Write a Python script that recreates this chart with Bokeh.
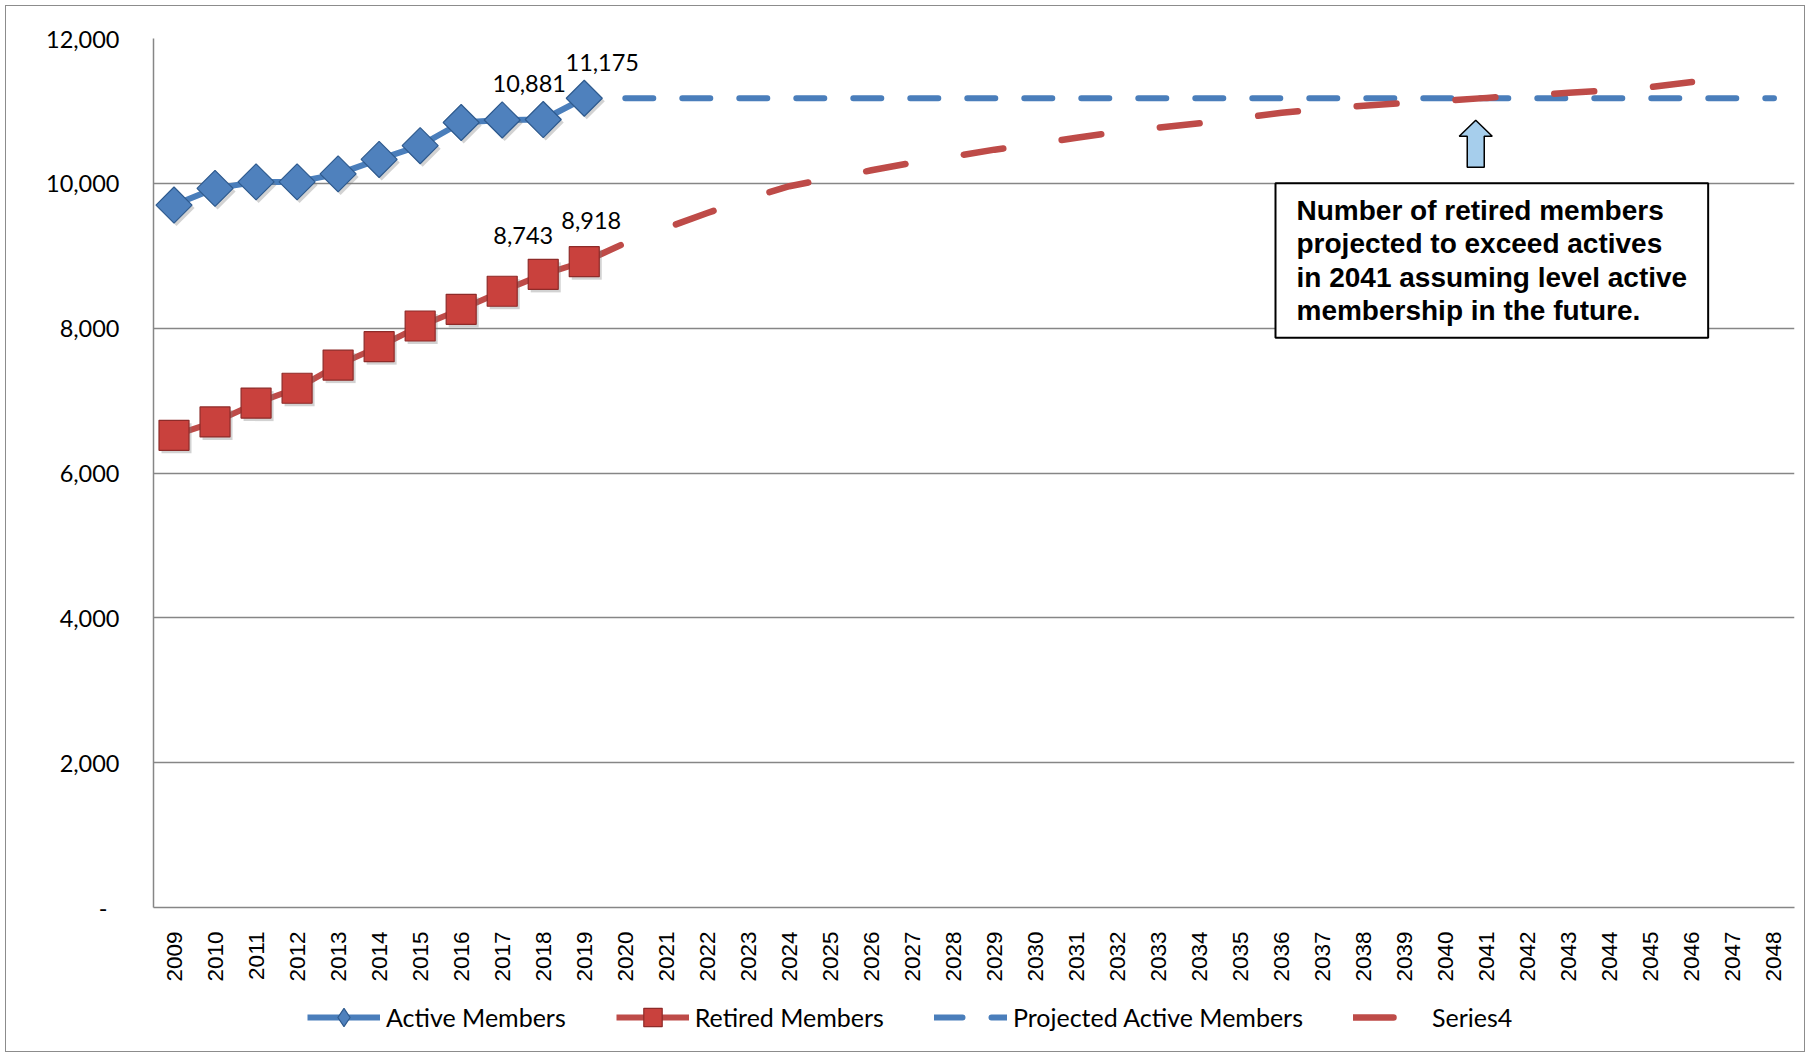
import math

from bokeh.core.properties import value
from bokeh.embed import file_html
from bokeh.layouts import column
from bokeh.models import (ColumnDataSource, FixedTicker, Label, Legend, LegendItem,
                          NumeralTickFormatter, Range1d)
from bokeh.plotting import figure
from bokeh.resources import INLINE

# ---- data -------------------------------------------------------------
years = list(range(2009, 2049))

hist_years = list(range(2009, 2020))
active_members = [9700, 9930, 10020, 10020, 10130, 10330, 10520, 10840, 10875, 10881, 11175]
retired_members = [6520, 6705, 6965, 7170, 7490, 7745, 8030, 8260, 8510, 8743, 8918]

proj_years = list(range(2020, 2049))
projected_active = [11175, 11175, 11175, 11175, 11175, 11175, 11175, 11175, 11175, 11175,
                    11175, 11175, 11175, 11175, 11175, 11175, 11175, 11175, 11175, 11175,
                    11175, 11175, 11175, 11175, 11175, 11175, 11175, 11175, 11175]

series4_years = list(range(2019, 2047))
series4 = [8918, 9175, 9385, 9590, 9790, 9960, 10070, 10180, 10285, 10370,
           10465, 10545, 10630, 10710, 10770, 10830, 10900, 10975, 11030, 11070,
           11110, 11140, 11180, 11215, 11250, 11285, 11330, 11400]

label_years = [2018, 2019]
y_ticks = [0, 2000, 4000, 6000, 8000, 10000, 12000]

crossing_year = 2041
note_text = ("Number of retired members\nprojected to exceed actives\n"
             "in 2041 assuming level active\nmembership in the future.")

# ---- colours / fonts / layout ------------------------------------------
BLUE = "#4A7EBB"
BLUE_DARK = "#2E5A8E"
RED = "#BE4B48"
RED_DARK = "#8E2B29"
GRID = "#868686"
SANS = "Lato"

W = 1810
PLOT_H, KEY_H = 985, 72
BL, BR, BT, BB = 153, 16, 38, 78
X0, X1 = 2008.5, 2048.5
Y0, Y1 = 0, 12000
FW, FH = W - BL - BR, PLOT_H - BT - BB
yr_per_px = (X1 - X0) / FW
val_per_px = (Y1 - Y0) / FH


def px_to_x(px):
    return X0 + (px - BL) * yr_per_px


p = figure(width=W, height=PLOT_H, output_backend="svg", toolbar_location=None,
           x_range=Range1d(X0, X1), y_range=Range1d(Y0, Y1),
           min_border_left=BL, min_border_right=BR, min_border_top=BT, min_border_bottom=BB)
p.outline_line_color = None
p.background_fill_color = "white"
p.border_fill_alpha = 0

# axes and grid
p.xgrid.visible = False
p.ygrid.ticker = FixedTicker(ticks=y_ticks)
p.ygrid.grid_line_color = GRID
p.ygrid.grid_line_width = 1.5

p.yaxis.ticker = FixedTicker(ticks=y_ticks)
p.yaxis.formatter = NumeralTickFormatter(format="0,0")
p.yaxis.major_label_overrides = {0: "-\u00a0\u00a0"}
p.xaxis.ticker = FixedTicker(ticks=years)
for ax in (p.xaxis, p.yaxis):
    ax.axis_line_color = GRID
    ax.axis_line_width = 1.5
    ax.major_tick_line_color = None
    ax.minor_tick_line_color = None
    ax.major_label_text_color = "black"
p.yaxis.major_label_text_font = SANS
p.yaxis.major_label_text_font_size = "23.5px"
p.yaxis.major_label_standoff = 28
p.xaxis.major_label_text_font = "Liberation Sans"
p.xaxis.major_label_text_font_size = "22.5px"
p.xaxis.major_label_orientation = math.pi / 2
p.xaxis.major_label_standoff = 18

# styles shared by the chart and its key
active_line_kw = dict(line_color=BLUE, line_width=6, line_join="round")
retired_line_kw = dict(line_color=RED, line_width=6, line_join="round")
proj_kw = dict(line_color=BLUE, line_width=6, line_dash="28 29", line_cap="round")
s4_kw = dict(line_color=RED, line_width=6.5, line_dash="40 59", line_cap="round")
active_pt_kw = dict(fill_color="#4F81BD", line_color=BLUE_DARK, line_width=1.2)
retired_pt_kw = dict(marker="square", fill_color="#C9413D", line_color=RED_DARK, line_width=1.2)

# projections
p.line(proj_years, projected_active, **proj_kw)
p.line(series4_years, series4, **s4_kw)

# history
p.line(hist_years, active_members, **active_line_kw)
p.line(hist_years, retired_members, **retired_line_kw)

# marker shadows
shadow_dx, shadow_dy = 2.5 * yr_per_px, -3 * val_per_px
p.scatter([x + shadow_dx for x in hist_years], [v + shadow_dy for v in active_members],
          marker="square", size=25.5, angle=math.pi / 4, fill_color="#7f7f7f",
          fill_alpha=0.35, line_color=None)
p.scatter([x + shadow_dx for x in hist_years], [v + shadow_dy for v in retired_members],
          marker="square", size=30, fill_color="#7f7f7f", fill_alpha=0.35, line_color=None)

p.scatter(hist_years, active_members, marker="square", size=25.5, angle=math.pi / 4,
          **active_pt_kw)
p.scatter(hist_years, retired_members, size=30, **retired_pt_kw)


# value labels for the two latest years
def pick(xs, vs, wanted):
    return [vs[xs.index(y)] for y in wanted]


act_lab = pick(hist_years, active_members, label_years)
ret_lab = pick(hist_years, retired_members, label_years)
lab_src = ColumnDataSource(dict(
    x=label_years + label_years,
    y=act_lab + ret_lab,
    text=[f"{v:,}" for v in act_lab + ret_lab],
    dx=[-14, 18, -20, 7],
    dy=[-36, -36, -39, -41],
))
p.text(x="x", y="y", text="text", x_offset="dx", y_offset="dy", source=lab_src,
       text_align="center", text_baseline="middle", text_font=value(SANS),
       text_font_size="23.5px", text_color="black")

# callout arrow pointing at the crossing
tip_val = 10870
ax_c = crossing_year - 0.27
head_w, shaft_w = 16.5 * yr_per_px, 8.5 * yr_per_px
head_len, total_len = 16 * val_per_px, 47 * val_per_px
arrow_x = [ax_c, ax_c + head_w, ax_c + shaft_w, ax_c + shaft_w,
           ax_c - shaft_w, ax_c - shaft_w, ax_c - head_w]
arrow_y = [tip_val, tip_val - head_len, tip_val - head_len, tip_val - total_len,
           tip_val - total_len, tip_val - head_len, tip_val - head_len]
p.patch(arrow_x, arrow_y, fill_color="#A6CEEC", line_color="black", line_width=1.5)

note = Label(x=px_to_x(1275), y=10000, x_units="data", y_units="data",
             anchor="top_left", text=note_text, text_font="Liberation Sans",
             text_font_style="bold", text_font_size="28px", text_line_height=1.07,
             text_color="black", padding=(21, 12), border_line_color="black",
             border_line_width=2, background_fill_color="white")
p.add_layout(note)

# ---- key strip under the chart ------------------------------------------
# the key's renderers carry the same series, but its ranges keep them out of view;
# they are only there to supply the legend swatches
k = figure(width=W, height=KEY_H, output_backend="svg", toolbar_location=None,
           x_range=Range1d(0, 1), y_range=Range1d(0, 1), min_border=0,
           x_axis_location=None, y_axis_location=None)
k.grid.visible = False
k.outline_line_color = None
k.background_fill_alpha = 0
k.border_fill_alpha = 0

k_act_line = k.line(hist_years, active_members, **active_line_kw)
k_act_pt = k.scatter(hist_years, active_members, marker="diamond", size=20, **active_pt_kw)
k_ret_line = k.line(hist_years, retired_members, **retired_line_kw)
k_ret_pt = k.scatter(hist_years, retired_members, size=20, **retired_pt_kw)
k_proj = k.line(proj_years, projected_active, **proj_kw)
k_s4 = k.line(series4_years, series4, **s4_kw)

legend = Legend(items=[
    LegendItem(label="Active Members", renderers=[k_act_line, k_act_pt]),
    LegendItem(label="Retired Members", renderers=[k_ret_line, k_ret_pt]),
    LegendItem(label="Projected Active Members", renderers=[k_proj]),
    LegendItem(label="Series4", renderers=[k_s4]),
], orientation="horizontal", location=(307 - BL, 17),
    glyph_width=73, glyph_height=46, label_standoff=6, spacing=50, padding=0, margin=0,
    label_text_font=SANS, label_text_font_size="25px", label_text_color="black",
    border_line_color=None, background_fill_alpha=0)
k.add_layout(legend)

page = column(p, k, spacing=0)
# thin grey frame around the whole chart area
page.styles = {"outline": "1.5px solid #8C8C8C", "outline-offset": "-6px",
               "background-color": "white"}

open("out.html", "w").write(file_html(page, INLINE))
